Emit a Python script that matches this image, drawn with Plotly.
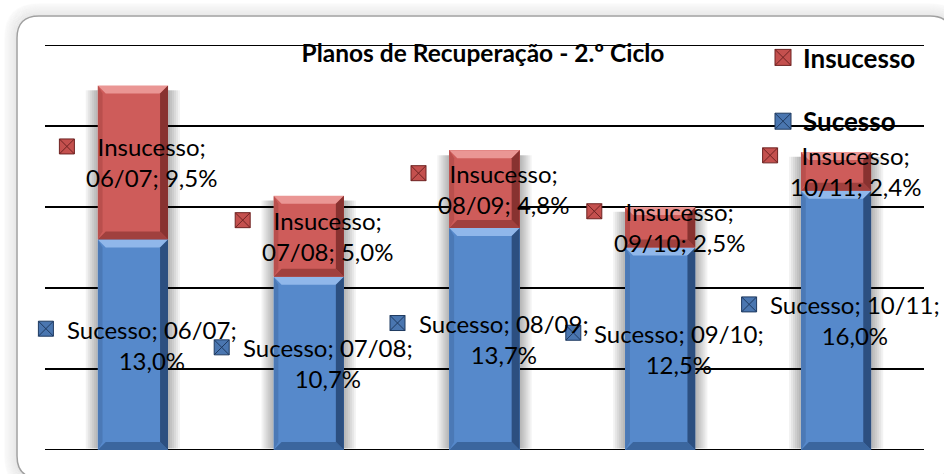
import plotly.graph_objects as go

# ---------------- data ----------------
categories = ["06/07", "07/08", "08/09", "09/10", "10/11"]
sucesso = [13.0, 10.7, 13.7, 12.5, 16.0]
insucesso = [9.5, 5.0, 4.8, 2.5, 2.4]
y_ticks = [0, 5, 10, 15, 20, 25]
title_text = "Planos de Recuperação - 2.º Ciclo"

# ---------------- layout geometry ----------------
OFF = 0                      # page body margin (removed by post_script)
W, H = 944 - OFF, 474 - OFF
PL, PR, PT, PB = 45 - OFF, 924 - OFF, 45 - OFF, 450 - OFF   # plot box in figure px
ML, MR, MT, MB = PL, W - PR, PT, H - PB
PW, PH = PR - PL, PB - PT
XMIN, XMAX = -0.5, len(categories) - 0.5
YMIN, YMAX = 0, 25
DX = (XMAX - XMIN) / PW   # data units per pixel (x)
DY = (YMAX - YMIN) / PH   # data units per pixel (y)
BARW = 0.4
FONT = "Lato"

BLUE = dict(face="#5689CB", top="#90B7EA", bottom="#3B669E", left="#4B79B6", right="#2C4F80")
RED = dict(face="#CE5C5A", top="#EA9694", bottom="#A0403E", left="#B94F4D", right="#883230")


def fmt(v):
    return f"{v:.1f}".replace(".", ",") + "%"


def px2paper(x, y):
    # x, y are screen pixels
    return (x - OFF - ML) / PW, (H - MB - (y - OFF)) / PH


def rrect_path(x0, y0, x1, y1, r):
    def P(x, y):
        a, b = px2paper(x, y)
        return f"{a:.5f},{b:.5f}"
    return (f"M{P(x0 + r, y0)} L{P(x1 - r, y0)} Q{P(x1, y0)} {P(x1, y0 + r)} "
            f"L{P(x1, y1 - r)} Q{P(x1, y1)} {P(x1 - r, y1)} L{P(x0 + r, y1)} "
            f"Q{P(x0, y1)} {P(x0, y1 - r)} L{P(x0, y0 + r)} Q{P(x0, y0)} {P(x0 + r, y0)} Z")


fig = go.Figure()
xs = list(range(len(categories)))

# bars
fig.add_trace(go.Bar(x=xs, y=sucesso, width=BARW, name="Sucesso",
                     marker=dict(color=BLUE["face"], line=dict(width=0)),
                     showlegend=False, hoverinfo="skip"))
fig.add_trace(go.Bar(x=xs, y=insucesso, width=BARW, name="Insucesso",
                     marker=dict(color=RED["face"], line=dict(width=0)),
                     showlegend=False, hoverinfo="skip"))

shapes = []

# outer frame with soft shadow (screen pixel geometry)
FX0, FY0, FX1, FY1, FR = 17, 16, 952, 478, 22
for k in range(12, 0, -1):
    a = 0.05 * (13 - k) / 12 + 0.01
    shapes.append(dict(type="path", xref="paper", yref="paper", layer="below",
                       path=rrect_path(FX0 - k, FY0 - k, FX1 + k, FY1 + k, FR + k),
                       line=dict(color=f"rgba(0,0,0,{a:.3f})", width=1.6),
                       fillcolor="rgba(0,0,0,0)"))
shapes.append(dict(type="path", xref="paper", yref="paper", layer="below",
                   path=rrect_path(FX0, FY0, FX1, FY1, FR),
                   line=dict(color="#A0A0A0", width=1.5), fillcolor="white"))

# horizontal gridlines at the tick values
for t in y_ticks:
    shapes.append(dict(type="line", xref="paper", yref="y", layer="between",
                       x0=0, x1=1, y0=t, y1=t, line=dict(color="black", width=2)))

# soft shadows beside bars
for i, (s, f) in enumerate(zip(sucesso, insucesso)):
    top = s + f
    for k in range(1, 7):
        for side in (-1, 1):
            edge = i + side * BARW / 2
            shapes.append(dict(type="rect", xref="x", yref="y", layer="between",
                               x0=edge, x1=edge + side * k * 2 * DX, y0=0.1, y1=top - 0.3,
                               fillcolor="rgba(0,0,0,0.05)", line=dict(width=0)))

# bevel effect on every segment
bx, by = 8 * DX, 8 * DY
def bevel(c, y0, y1, col):
    l, r = c - BARW / 2, c + BARW / 2
    h = min(by, (y1 - y0) / 2)
    polys = [
        (col["top"], [(l, y1), (r, y1), (r - bx, y1 - h), (l + bx, y1 - h)]),
        (col["bottom"], [(l, y0), (r, y0), (r - bx, y0 + h), (l + bx, y0 + h)]),
        (col["left"], [(l, y0), (l, y1), (l + bx * 0.6, y1 - h), (l + bx * 0.6, y0 + h)]),
        (col["right"], [(r, y0), (r, y1), (r - bx, y1 - h), (r - bx, y0 + h)]),
    ]
    out = []
    for color, pts in polys:
        path = "M" + " L".join(f"{x:.5f},{y:.5f}" for x, y in pts) + " Z"
        out.append(dict(type="path", xref="x", yref="y", layer="above", path=path,
                        fillcolor=color, line=dict(width=0)))
    return out

for i, (s, f) in enumerate(zip(sucesso, insucesso)):
    shapes += bevel(i, 0, s, BLUE)
    shapes += bevel(i, s, s + f, RED)

# data labels (legend key + text)
annotations = []
key_x_s, key_y_s, key_x_f, key_y_f = [], [], [], []
for i, (cat, s, f) in enumerate(zip(categories, sucesso, insucesso)):
    mid_s = s / 2
    mid_f = s + f / 2
    annotations.append(dict(x=i, y=mid_s, xref="x", yref="y", xshift=19,
                            text=f"Sucesso; {cat};<br>{fmt(s)}", showarrow=False,
                            font=dict(family=FONT, size=24, color="black"),
                            xanchor="center", yanchor="middle", align="center"))
    annotations.append(dict(x=i, y=mid_f, xref="x", yref="y", xshift=19,
                            text=f"Insucesso;<br>{cat}; {fmt(f)}", showarrow=False,
                            font=dict(family=FONT, size=24, color="black"),
                            xanchor="center", yanchor="middle", align="center"))
    key_x_s.append(i - 87 * DX); key_y_s.append(mid_s + 16 * DY)
    key_x_f.append(i - 66 * DX); key_y_f.append(mid_f + 16 * DY)

fig.add_trace(go.Scatter(x=key_x_s, y=key_y_s, mode="markers", showlegend=False,
                         hoverinfo="skip", cliponaxis=False,
                         marker=dict(symbol="square-x", size=15, color="#4A76B0",
                                     line=dict(color="#1F3A60", width=1))))
fig.add_trace(go.Scatter(x=key_x_f, y=key_y_f, mode="markers", showlegend=False,
                         hoverinfo="skip", cliponaxis=False,
                         marker=dict(symbol="square-x", size=15, color="#C4504E",
                                     line=dict(color="#6E2322", width=1))))

# legend entries
fig.add_trace(go.Scatter(x=[None], y=[None], mode="markers", name="Insucesso",
                         legendgroup="g1",
                         marker=dict(symbol="square-x", size=16, color="#C4504E",
                                     line=dict(color="#6E2322", width=1))))
fig.add_trace(go.Scatter(x=[None], y=[None], mode="markers", name="Sucesso",
                         legendgroup="g2",
                         marker=dict(symbol="square-x", size=16, color="#4A76B0",
                                     line=dict(color="#1F3A60", width=1))))

lx, ly = px2paper(763, 34)
tx, ty = px2paper(483, 53)

fig.update_layout(
    width=W, height=H,
    margin=dict(l=ML, r=MR, t=MT, b=MB, pad=0),
    paper_bgcolor="white", plot_bgcolor="rgba(0,0,0,0)",
    barmode="stack", bargap=0,
    font=dict(family=FONT, color="black"),
    title=dict(text=f"<b>{title_text}</b>", x=tx, y=ty, xref="paper", yref="paper",
               xanchor="center", yanchor="middle",
               font=dict(family=FONT, size=24.5, color="black")),
    legend=dict(x=lx, y=ly, xanchor="left", yanchor="top", bgcolor="rgba(0,0,0,0)",
                traceorder="grouped", tracegroupgap=27, itemwidth=30,
                font=dict(family=FONT, size=26, color="black", weight="bold")),
    xaxis=dict(range=[XMIN, XMAX], showgrid=False, zeroline=False, showticklabels=False,
               showline=False, ticks=""),
    yaxis=dict(range=[YMIN, YMAX], tickvals=y_ticks, showgrid=False,
               zeroline=False, showticklabels=False, showline=False, ticks=""),
    shapes=shapes, annotations=annotations,
)

fig.write_html("out.html", config={"displayModeBar": False},
               post_script="document.body.style.margin='0';document.body.style.overflow='hidden';")
